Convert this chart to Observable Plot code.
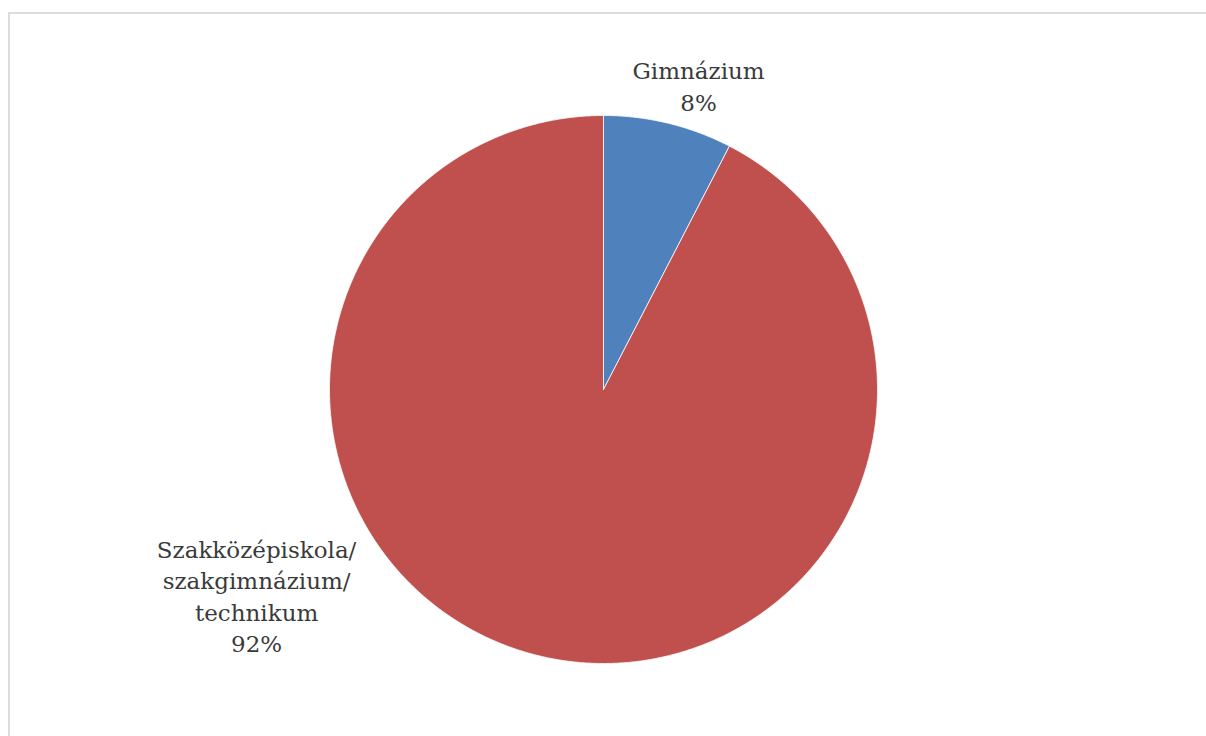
<!DOCTYPE html>
<html>
<head>
<meta charset="utf-8">
<script src="https://cdn.jsdelivr.net/npm/d3@7"></script>
<script src="https://cdn.jsdelivr.net/npm/@observablehq/plot@0.6"></script>
<style>
  html, body { margin: 0; padding: 0; background: #fff; }
  #wrap { position: relative; width: 1206px; height: 736px; overflow: hidden; }
  #frame { position: absolute; left: 8px; top: 12px; width: 1300px; height: 800px;
           border-top: 2px solid #dcdcdc; border-left: 2px solid #dcdcdc; box-sizing: border-box; }
  #chart { position: absolute; left: 0; top: 0; }
</style>
</head>
<body>
<div id="wrap"><div id="frame"></div><div id="chart"></div></div>
<script>
// Data
const categories = ["Gimnázium", "Szakközépiskola/\nszakgimnázium/\ntechnikum"];
const values = [7.6, 92.4];
const colors = ["#4F81BD", "#C0504D"];

// Label anchors in pie-radius units (style, not data)
const labelAnchors = [[0.347, 1.111], [-1.266, -0.749]];

const W = 1206, H = 736, cx = 603, cy = 389, R = 274;

const total = d3.sum(values);
const pie = d3.pie().sort(null).value(d => d.value)(categories.map((c, i) => ({name: c, value: values[i]})));

const wedgePts = [];
pie.forEach(s => {
  wedgePts.push({name: s.data.name, x: 0, y: 0});
  const n = Math.max(2, Math.ceil((s.endAngle - s.startAngle) / (Math.PI / 720)));
  for (let k = 0; k <= n; k++) {
    const a = s.startAngle + (s.endAngle - s.startAngle) * k / n;
    wedgePts.push({name: s.data.name, x: Math.sin(a), y: Math.cos(a)});
  }
  wedgePts.push({name: s.data.name, x: 0, y: 0});
});

const labels = categories.map((c, i) => ({
  x: labelAnchors[i][0], y: labelAnchors[i][1],
  text: c + "\n" + Math.round(values[i] / total * 100) + "%"
}));

const serif = "'DejaVu Serif', 'Noto Serif', 'Liberation Serif', serif";
const chart = Plot.plot({
  width: W, height: H,
  margin: 0,
  style: {background: "transparent", fontFamily: serif},
  x: {domain: [-cx / R, (W - cx) / R], range: [0, W], axis: null},
  y: {domain: [-(H - cy) / R, cy / R], range: [H, 0], axis: null},
  color: {domain: categories, range: colors, legend: false},
  marks: [
    Plot.line(wedgePts, {x: "x", y: "y", z: "name", fill: "name", stroke: "white", strokeWidth: 0.8, curve: "linear"}),
    Plot.text(labels, {x: "x", y: "y", text: "text", fontFamily: serif, fontSize: 23,
      lineHeight: 1.37, fill: "#3a3a3a", textAnchor: "middle", lineAnchor: "middle"})
  ]
});
document.getElementById("chart").appendChild(chart);
</script>
</body>
</html>
